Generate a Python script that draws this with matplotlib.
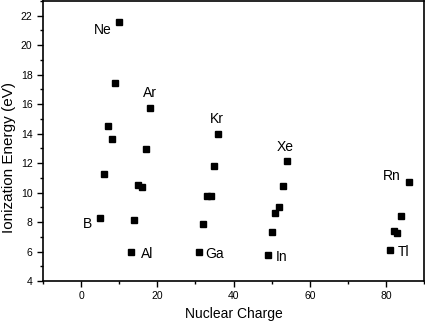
import matplotlib
matplotlib.use("Agg")
import matplotlib.pyplot as plt
from matplotlib.ticker import MultipleLocator

plt.rcParams['font.family'] = ['Liberation Sans', 'DejaVu Sans']

nuclear_charge = [5, 6, 7, 8, 9, 10,
                  13, 14, 15, 16, 17, 18,
                  31, 32, 33, 34, 35, 36,
                  49, 50, 51, 52, 53, 54,
                  81, 82, 83, 84, 86]
ionization_energy = [8.30, 11.26, 14.53, 13.62, 17.42, 21.56,
                     5.99, 8.15, 10.49, 10.36, 12.97, 15.76,
                     6.00, 7.90, 9.79, 9.75, 11.81, 14.00,
                     5.79, 7.34, 8.61, 9.01, 10.45, 12.13,
                     6.11, 7.42, 7.29, 8.41, 10.75]

label_names = ['Ne', 'Ar', 'Kr', 'Xe', 'Rn', 'B', 'Al', 'Ga', 'In', 'Tl']
label_x = [5.8, 18.2, 35.6, 53.6, 81.5, 1.8, 17.3, 35.1, 52.7, 84.6]
label_y = [21.0, 16.77, 14.98, 13.1, 11.1, 7.86, 5.85, 5.83, 5.63, 5.95]

fig = plt.figure(figsize=(4.25, 3.26), dpi=100)
ax = fig.add_axes([0.101, 0.138, 0.897, 0.859])
ax.plot(nuclear_charge, ionization_energy, 's', color='black', markersize=4, linestyle='none')
for n, x, y in zip(label_names, label_x, label_y):
    ax.text(x, y, n, ha='center', va='center', fontsize=10)

ax.set_xlim(-10, 90)
ax.set_ylim(4, 23)
ax.xaxis.set_major_locator(MultipleLocator(20))
ax.xaxis.set_minor_locator(MultipleLocator(10))
ax.yaxis.set_major_locator(MultipleLocator(2))
ax.yaxis.set_minor_locator(MultipleLocator(1))
ax.tick_params(which='major', direction='out', length=4, width=1, labelsize=7.5, top=False, right=False)
ax.tick_params(which='minor', direction='out', length=2.5, width=1, top=False, right=False)
for s in ax.spines.values():
    s.set_linewidth(1.2)
ax.set_xlabel('Nuclear Charge', fontsize=10)
ax.set_ylabel('Ionization Energy (eV)', fontsize=11, va='center')
ax.yaxis.set_label_coords(-0.088, 0.44)
fig.savefig('out.png', dpi=100)
